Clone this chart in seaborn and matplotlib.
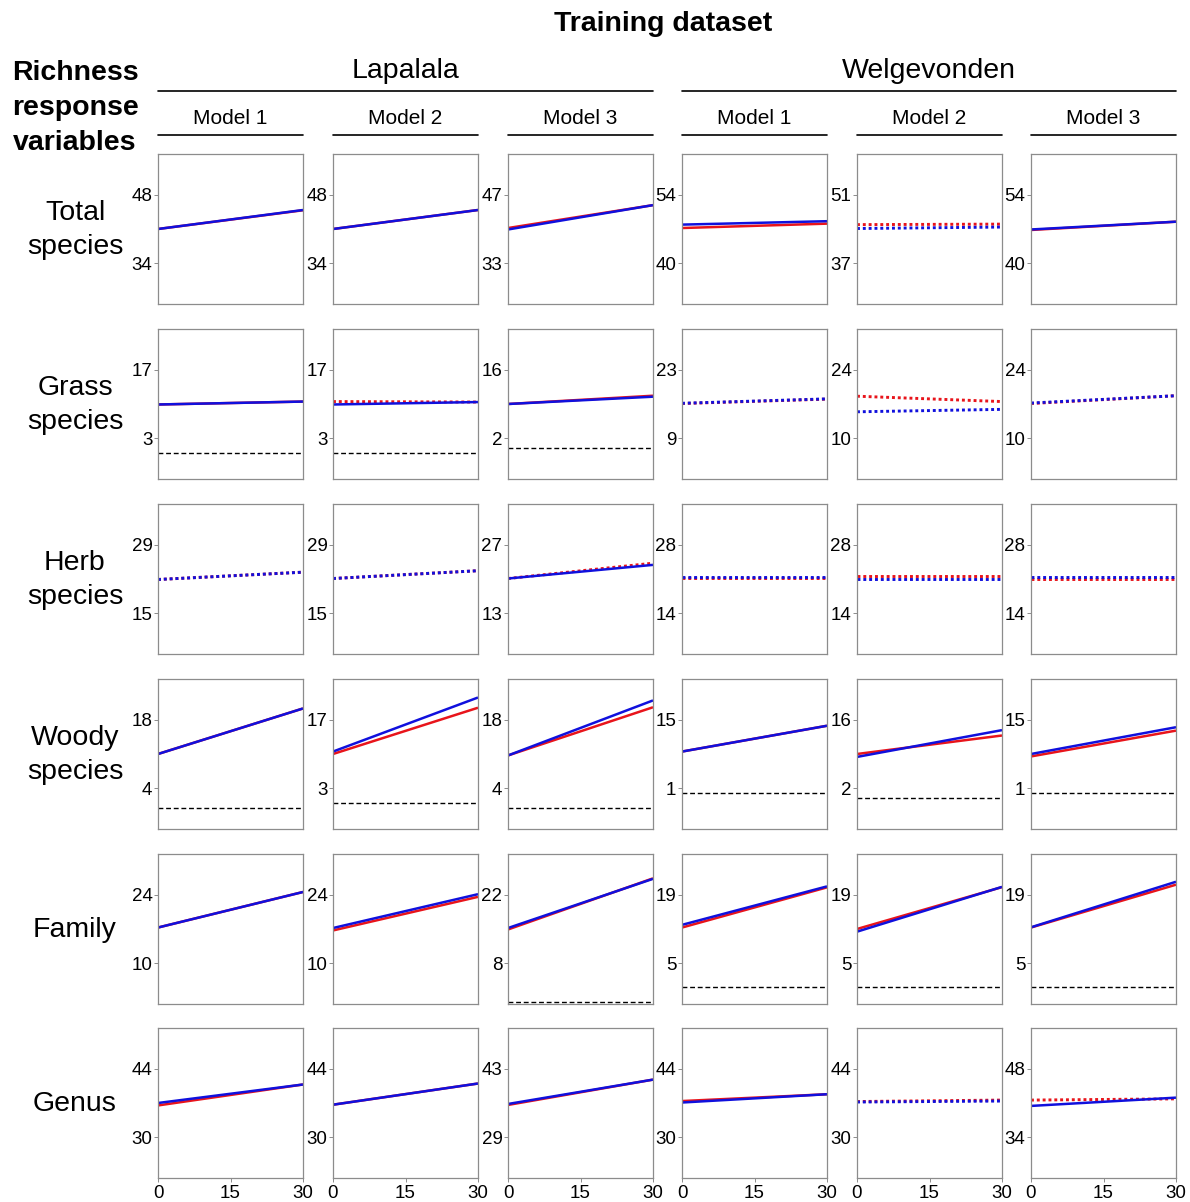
import numpy as np
import pandas as pd
import matplotlib
matplotlib.use("Agg")
import matplotlib.pyplot as plt
from matplotlib.lines import Line2D
import seaborn as sns

# response variables (rows) and training panels (columns)
responses = ["Total\nspecies", "Grass\nspecies", "Herb\nspecies",
             "Woody\nspecies", "Family", "Genus"]
reserves = ["Lapalala", "Welgevonden"]
models = ["Model 1", "Model 2", "Model 3"]
x_range = [0, 30]
x_ticks = [0, 15, 30]

# y tick pairs (low, high) for each row / column
y_ticks = [
    [(34, 48), (34, 48), (33, 47), (40, 54), (37, 51), (40, 54)],
    [(3, 17), (3, 17), (2, 16), (9, 23), (10, 24), (10, 24)],
    [(15, 29), (15, 29), (13, 27), (14, 28), (14, 28), (14, 28)],
    [(4, 18), (3, 17), (4, 18), (1, 15), (2, 16), (1, 15)],
    [(10, 24), (10, 24), (8, 22), (5, 19), (5, 19), (5, 19)],
    [(30, 44), (30, 44), (29, 43), (30, 44), (30, 44), (34, 48)],
]

# red line: value at x=0 and x=30
red_start = [
    [41.0, 41.0, 40.2, 47.2, 44.9, 46.8],
    [9.9, 10.5, 9.0, 16.1, 18.6, 17.1],
    [21.9, 22.1, 20.1, 21.2, 21.6, 21.1],
    [11.0, 10.0, 10.7, 8.5, 9.0, 7.5],
    [17.3, 16.7, 14.9, 12.3, 12.0, 12.3],
    [36.5, 36.65, 35.6, 37.4, 37.3, 41.6],
]
red_end = [
    [44.85, 44.9, 44.9, 48.1, 45.0, 48.5],
    [10.5, 10.4, 10.7, 17.0, 17.5, 18.7],
    [23.4, 23.7, 23.25, 21.2, 21.6, 21.1],
    [20.35, 19.5, 20.6, 13.8, 12.8, 12.8],
    [24.6, 23.6, 25.4, 20.55, 20.6, 21.1],
    [40.8, 41.0, 40.8, 38.8, 37.6, 41.85],
]
red_style = [
    ["solid", "solid", "solid", "solid", "dotted", "solid"],
    ["solid", "dotted", "solid", "dotted", "dotted", "dotted"],
    ["dotted", "dotted", "dotted", "dotted", "dotted", "dotted"],
    ["solid", "solid", "solid", "solid", "solid", "solid"],
    ["solid", "solid", "solid", "solid", "solid", "solid"],
    ["solid", "solid", "solid", "solid", "dotted", "dotted"],
]

# blue line: value at x=0 and x=30
blue_start = [
    [41.0, 41.0, 39.9, 47.9, 44.1, 46.9],
    [9.9, 9.9, 9.0, 16.15, 15.4, 17.2],
    [21.9, 22.1, 20.1, 21.4, 20.9, 21.4],
    [11.0, 10.5, 10.7, 8.5, 8.4, 8.0],
    [17.3, 17.2, 15.2, 12.85, 11.45, 12.35],
    [37.0, 36.65, 35.8, 37.1, 37.2, 40.4],
]
blue_end = [
    [44.9, 44.9, 44.9, 48.6, 44.4, 48.5],
    [10.5, 10.4, 10.5, 17.05, 15.9, 18.7],
    [23.4, 23.7, 22.9, 21.4, 20.9, 21.4],
    [20.35, 21.6, 22.0, 13.8, 13.9, 13.5],
    [24.6, 24.15, 25.3, 20.75, 20.65, 21.7],
    [40.8, 41.0, 40.8, 38.8, 37.4, 42.1],
]
blue_style = [
    ["solid", "solid", "solid", "solid", "dotted", "solid"],
    ["solid", "solid", "solid", "dotted", "dotted", "dotted"],
    ["dotted", "dotted", "solid", "dotted", "dotted", "dotted"],
    ["solid", "solid", "solid", "solid", "solid", "solid"],
    ["solid", "solid", "solid", "solid", "solid", "solid"],
    ["solid", "solid", "solid", "solid", "dotted", "solid"],
]

sns.set_theme(style="white")
plt.rcParams["font.family"] = ["Liberation Sans", "DejaVu Sans"]
plt.rcParams["text.color"] = "black"

W, H = 1190, 1202
fig = plt.figure(figsize=(W / 100, H / 100), dpi=100)

col_left = [158, 333, 508, 682, 857, 1031]
row_top = [154, 329, 504, 679, 854, 1028]
pw, ph = 145, 150

RED, BLUE = "#e8141b", "#1010dd"
solid_lw, dot_lw = 1.8, 2.1
dot_pat = (0, (1.0, 1.0))


def draw(ax, y0, y1, style, color):
    df = pd.DataFrame({"x": x_range, "y": [y0, y1]})
    if style == "solid":
        sns.lineplot(data=df, x="x", y="y", ax=ax, color=color,
                     lw=solid_lw, solid_capstyle="butt")
    else:
        sns.lineplot(data=df, x="x", y="y", ax=ax, color=color,
                     lw=dot_lw, linestyle=dot_pat)


for r in range(6):
    for c in range(6):
        ax = fig.add_axes([col_left[c] / W, 1 - (row_top[r] + ph) / H,
                           pw / W, ph / H])
        lo, hi = y_ticks[r][c]
        d = hi - lo
        ax.axhline(0, color="black", lw=1.0, linestyle=(0, (3.5, 2)))
        draw(ax, red_start[r][c], red_end[r][c], red_style[r][c], RED)
        draw(ax, blue_start[r][c], blue_end[r][c], blue_style[r][c], BLUE)
        ax.set_xlim(x_range)
        ax.set_ylim(lo - 0.6 * d, hi + 0.6 * d)
        ax.set_yticks([lo, hi])
        ax.set_xticks(x_ticks)
        ax.set_xlabel("")
        ax.set_ylabel("")
        for s in ax.spines.values():
            s.set_color("#8c8c8c")
            s.set_linewidth(0.9)
        ax.tick_params(axis="y", left=True, length=3, width=0.7,
                       color="#8c8c8c", pad=1, labelsize=13.5, labelcolor="black")
        if r == 5:
            ax.tick_params(axis="x", bottom=True, length=3, width=0.7,
                           color="#8c8c8c", pad=2, labelsize=13.5, labelcolor="black")
        else:
            ax.tick_params(axis="x", bottom=False, labelbottom=False)

# headers
def fx(x):
    return x / W


def fy(y):
    return 1 - y / H


fig.text(fx(663), fy(24), "Training dataset", ha="center", va="center",
         fontsize=20.5, fontweight="bold")
for i, name in enumerate(reserves):
    x0 = col_left[3 * i]
    x1 = col_left[3 * i + 2] + pw
    fig.text(fx((x0 + x1) / 2), fy(71), name, ha="center", va="center",
             fontsize=20.5)
    fig.add_artist(Line2D([fx(x0), fx(x1)], [fy(91), fy(91)],
                          color="black", lw=1.2))
for c in range(6):
    x0 = col_left[c]
    fig.text(fx(x0 + pw / 2), fy(119), models[c % 3], ha="center",
             va="center", fontsize=15)
    fig.add_artist(Line2D([fx(x0), fx(x0 + pw)], [fy(135), fy(135)],
                          color="black", lw=1.2))

for i, word in enumerate(["Richness", "response", "variables"]):
    fig.text(fx(75), fy(73 + 35 * i), word, ha="center", va="center",
             fontsize=20.5, fontweight="bold")

for r, label in enumerate(responses):
    fig.text(fx(75), fy(row_top[r] + ph / 2 + 1), label, ha="center",
             va="center", fontsize=20.5, linespacing=1.42)

fig.savefig("out.png", dpi=100)
